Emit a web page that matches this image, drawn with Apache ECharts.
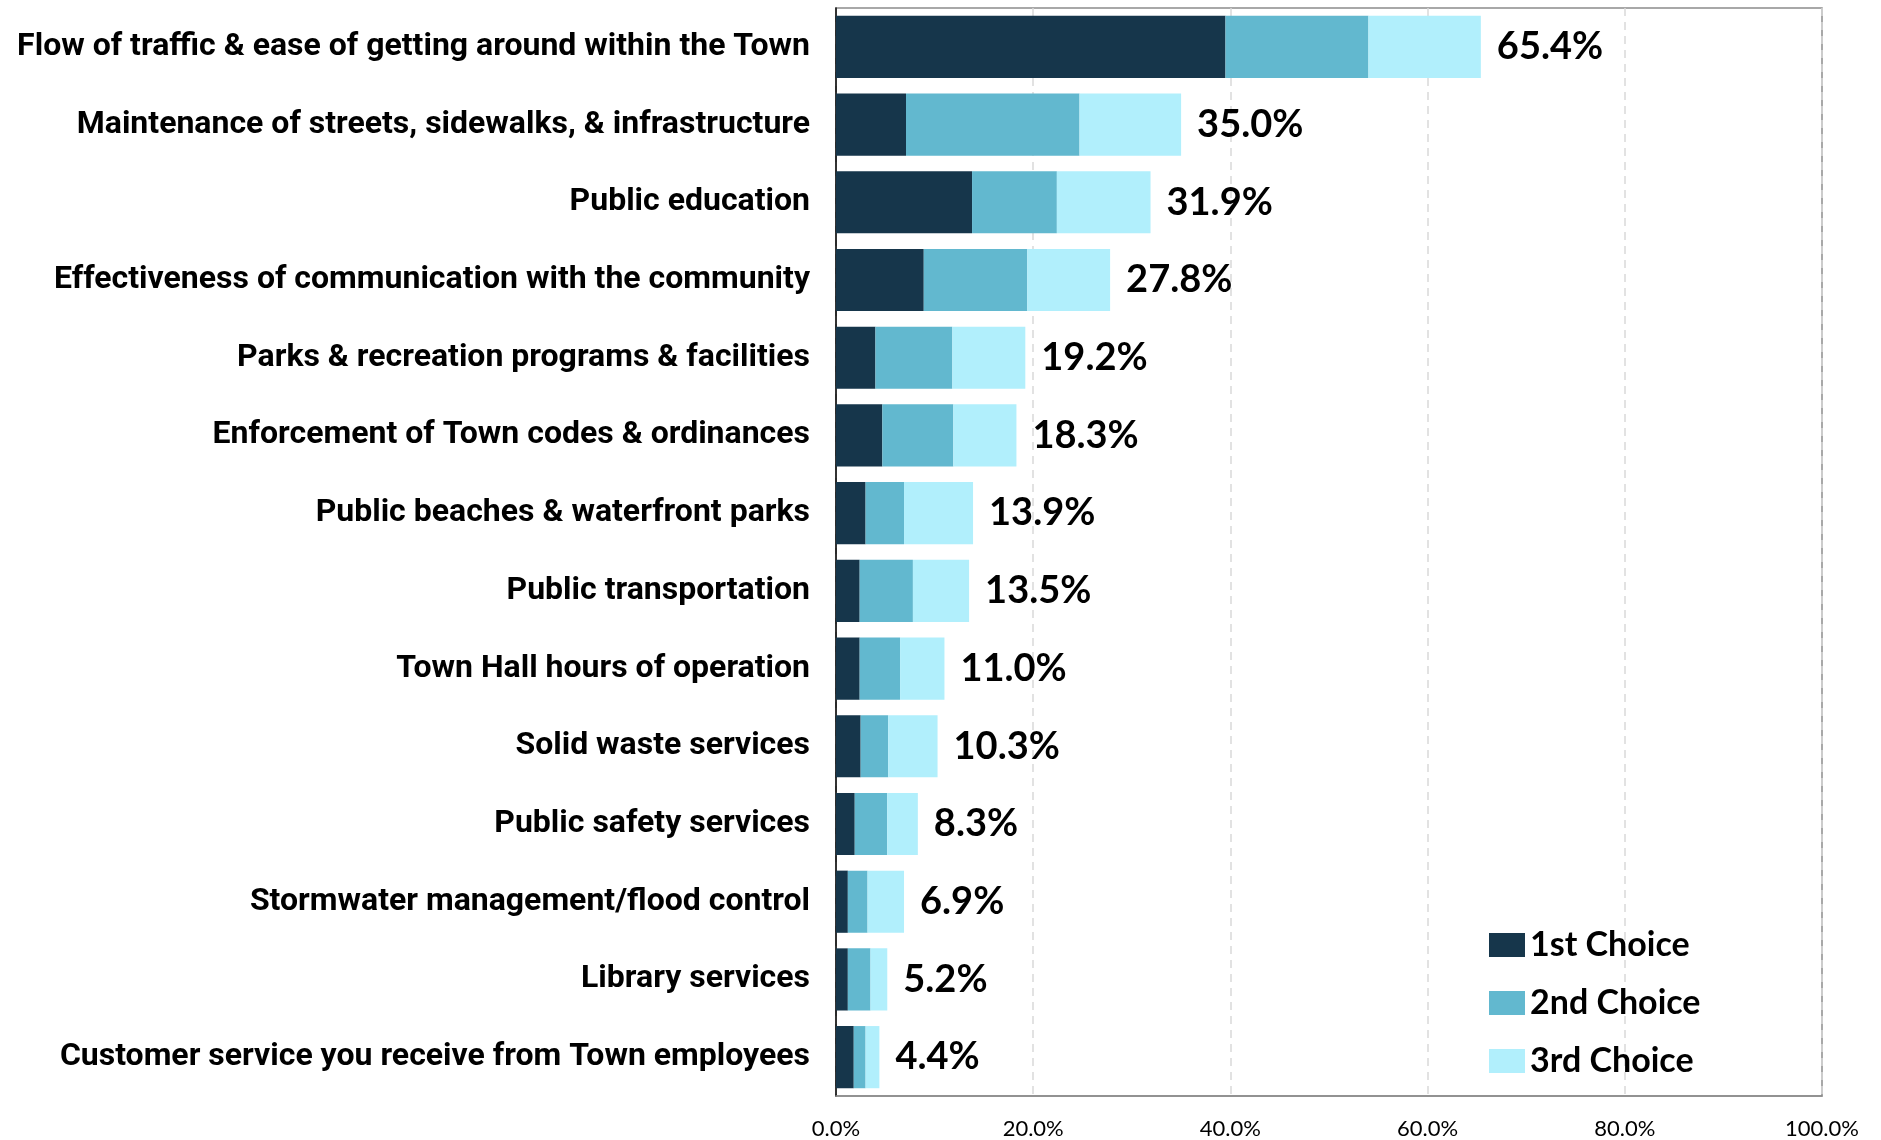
<!DOCTYPE html>
<html>
<head>
<meta charset="utf-8">
<script src="https://cdn.jsdelivr.net/npm/echarts@6/dist/echarts.min.js"></script>
<style>
  html, body { margin: 0; padding: 0; background: #fff; }
  #chart { width: 1881px; height: 1140px; }
</style>
</head>
<body>
<div id="chart"></div>
<script>
var categories = [
  'Flow of traffic & ease of getting around within the Town',
  'Maintenance of streets, sidewalks, & infrastructure',
  'Public education',
  'Effectiveness of communication with the community',
  'Parks & recreation programs & facilities',
  'Enforcement of Town codes & ordinances',
  'Public beaches & waterfront parks',
  'Public transportation',
  'Town Hall hours of operation',
  'Solid waste services',
  'Public safety services',
  'Stormwater management/flood control',
  'Library services',
  'Customer service you receive from Town employees'
];
var firstChoice  = [39.5, 7.1, 13.8, 8.9, 4.0, 4.7, 3.0, 2.4, 2.4, 2.5, 1.9, 1.2, 1.2, 1.8];
var secondChoice = [14.5, 17.6, 8.6, 10.5, 7.8, 7.2, 3.9, 5.4, 4.1, 2.8, 3.3, 2.0, 2.3, 1.2];
var thirdChoice  = [11.4, 10.3, 9.5, 8.4, 7.4, 6.4, 7.0, 5.7, 4.5, 5.0, 3.1, 3.7, 1.7, 1.4];
var totals = [65.4, 35.0, 31.9, 27.8, 19.2, 18.3, 13.9, 13.5, 11.0, 10.3, 8.3, 6.9, 5.2, 4.4];
var xTicks = [0, 20, 40, 60, 80, 100];

var chart = echarts.init(document.getElementById('chart'));
var option = {
  animation: false,
  grid: {
    left: 836, right: 59, top: 8, bottom: 44,
    outerBoundsMode: 'none',
    show: true, borderColor: '#8c8c8c', borderWidth: 1.5
  },
  legend: {
    orient: 'vertical',
    left: 1484, top: 923,
    icon: 'rect',
    itemWidth: 36, itemHeight: 24, itemGap: 24,
    textStyle: { fontFamily: 'Lato', fontWeight: 'bold', fontSize: 34, color: '#000' },
    data: ['1st Choice', '2nd Choice', '3rd Choice']
  },
  xAxis: {
    type: 'value',
    min: xTicks[0], max: xTicks[xTicks.length - 1], interval: 20,
    axisLine: { show: true, lineStyle: { color: '#8c8c8c', width: 1.5 } },
    axisTick: { show: false },
    splitLine: { show: true, lineStyle: { color: '#d9d9d9', type: [8, 6], width: 1.5 } },
    axisLabel: {
      margin: 22, fontFamily: 'Lato', fontSize: 22, color: '#000',
      formatter: function (v) { return v.toFixed(1) + '%'; }
    }
  },
  yAxis: {
    type: 'category',
    inverse: true,
    data: categories,
    axisLine: { show: true, lineStyle: { color: '#000', width: 1.5 } },
    axisTick: { show: false },
    axisLabel: {
      margin: 26, fontFamily: 'Roboto', fontWeight: 'bold', fontSize: 32, color: '#000',
      padding: [8, 0, 0, 0]
    }
  },
  series: [
    {
      name: '1st Choice', type: 'bar', stack: 'all', barCategoryGap: '20%',
      itemStyle: { color: '#16364b' },
      data: firstChoice
    },
    {
      name: '2nd Choice', type: 'bar', stack: 'all',
      itemStyle: { color: '#62b8cf' },
      data: secondChoice
    },
    {
      name: '3rd Choice', type: 'bar', stack: 'all',
      itemStyle: { color: '#b1effc' },
      label: {
        show: true, position: 'right', distance: 16,
        fontFamily: 'Lato', fontWeight: 'bold', fontSize: 38, color: '#000',
        formatter: function (p) { return totals[p.dataIndex].toFixed(1) + '%'; }
      },
      data: thirdChoice
    }
  ]
};
chart.setOption(option);
</script>
</body>
</html>
